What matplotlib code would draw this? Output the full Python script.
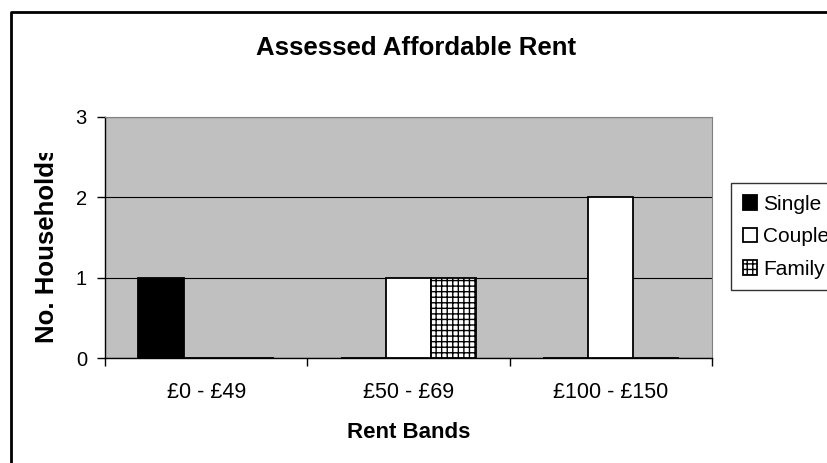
import numpy as np
import matplotlib
matplotlib.use("Agg")
import matplotlib.pyplot as plt
from matplotlib.lines import Line2D
from matplotlib.transforms import Bbox

plt.rcParams['font.family'] = ['Liberation Sans', 'DejaVu Sans']
plt.rcParams['hatch.linewidth'] = 1.0

bands = ['£0 - £49', '£50 - £69', '£100 - £150']
series = ['Single', 'Couple', 'Family']
single = [1, 0, 0]
couple = [0, 1, 2]
family = [0, 1, 0]

W, H = 827, 463
fig = plt.figure(figsize=(W / 100, H / 100), dpi=100)
ax = fig.add_axes([105 / W, 1 - 358 / H, 607 / W, 241 / H])
ax.set_facecolor('#c0c0c0')

x = np.arange(len(bands))
w = 0.223
styles = [dict(color='black'),
          dict(color='white'),
          dict(color='white', hatch='+++')]
for i, (name, vals) in enumerate(zip(series, [single, couple, family])):
    ax.bar(x + (i - 1) * w, vals, width=w, edgecolor='black', linewidth=1.3,
           label=name, zorder=3, **styles[i])

ax.set_xlim(-0.5, 2.5)
ax.set_ylim(0, 3)
ax.set_yticks([0, 1, 2, 3])
ax.yaxis.grid(True, color='black', linewidth=0.8, zorder=1)
ax.set_axisbelow(True)
ax.set_xticks(x)
ax.set_xticklabels(bands, fontsize=15.5)
ax.set_xticks([-0.5, 0.5, 1.5, 2.5], minor=True)
ax.tick_params(axis='x', which='major', length=0, pad=17)
ax.tick_params(axis='x', which='minor', length=6, width=1)
ax.tick_params(axis='y', length=6, width=1, labelsize=14.5, pad=7)

for s in ['top', 'right']:
    ax.spines[s].set_color('#808080')
for s in ['left', 'bottom']:
    ax.spines[s].set_color('black')
    ax.spines[s].set_linewidth(1)

fig.text(409 / W, 1 - 438 / H, 'Rent Bands', fontsize=16, fontweight='bold',
         ha='center', va='baseline')
# y label is cut off at the top in the original
ylab = fig.text(47 / W, 1 - 343 / H, 'No. Households', rotation=90,
                fontsize=18.5, fontweight='bold', ha='center', va='bottom')
ylab.set_clip_box(Bbox.from_extents(0, 0, W, H - 153))
ylab.set_clip_on(True)
fig.text(416 / W, 1 - 55 / H, 'Assessed Affordable Rent', fontsize=18.5,
         fontweight='bold', ha='center', va='baseline')

leg = fig.legend(loc='upper left', bbox_to_anchor=(731 / W, 1 - 183 / H),
                 fontsize=15, frameon=True, fancybox=False, edgecolor='black',
                 handlelength=0.7, handleheight=0.7, handletextpad=0.3,
                 borderpad=0.56, labelspacing=0.65, borderaxespad=0)
leg.get_frame().set_linewidth(1)

fig.add_artist(Line2D([11 / W, 11 / W, 1], [0, 1 - 12 / H, 1 - 12 / H],
                      transform=fig.transFigure, color='black', linewidth=2))

fig.savefig('out.png', dpi=100)
